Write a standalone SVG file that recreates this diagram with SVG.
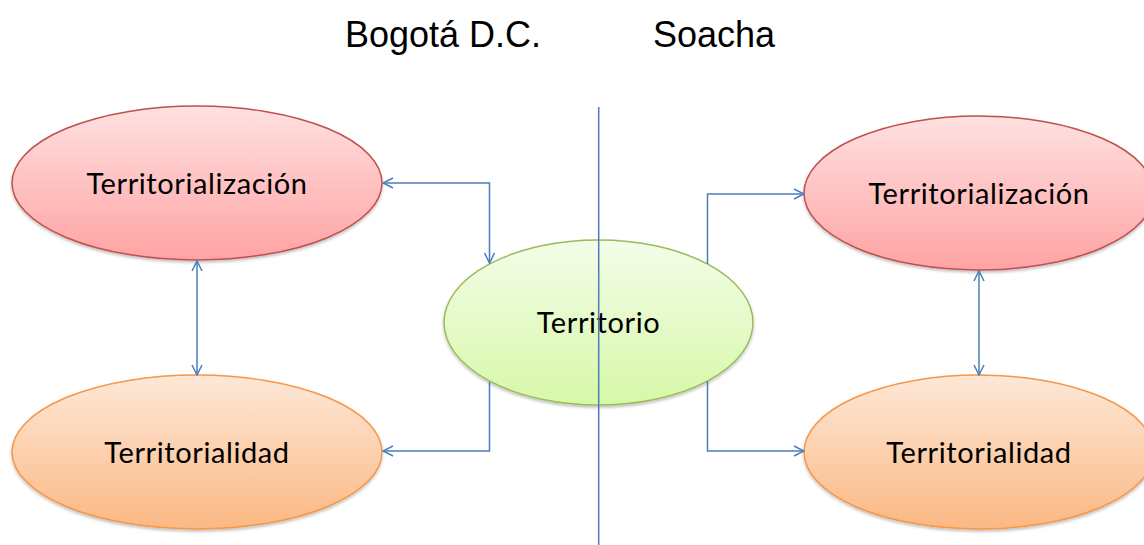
<svg xmlns="http://www.w3.org/2000/svg" width="1144" height="545" viewBox="0 0 1144 545">
<style>
.lbl{font-family:Lato,"Open Sans","Liberation Sans",sans-serif;font-size:29px;letter-spacing:0.6px;fill:#000;text-anchor:middle}
.ttl{font-family:"Liberation Sans",Arial,sans-serif;font-size:36px;fill:#000;text-anchor:middle}
.con{fill:none;stroke:#4A7EBB;stroke-width:1.5}
.red{fill:url(#gRed);stroke:#C0504D;stroke-width:1.5}
.ora{fill:url(#gOra);stroke:#F79646;stroke-width:1.5}
.grn{fill:url(#gGrn);stroke:#9BBB59;stroke-width:1.5}
</style>
<defs>
<linearGradient id="gRed" x1="0" y1="0" x2="0" y2="1"><stop offset="0" stop-color="#FFE1E1"/><stop offset="1" stop-color="#FFA3A3"/></linearGradient>
<linearGradient id="gOra" x1="0" y1="0" x2="0" y2="1"><stop offset="0" stop-color="#FDE8D8"/><stop offset="1" stop-color="#FBB883"/></linearGradient>
<linearGradient id="gGrn" x1="0" y1="0" x2="0" y2="1"><stop offset="0" stop-color="#F3FDE9"/><stop offset="1" stop-color="#D7F8A8"/></linearGradient>
<filter id="sh" x="-10%" y="-10%" width="120%" height="130%"><feDropShadow dx="0" dy="2" stdDeviation="1.5" flood-color="#000" flood-opacity="0.25"/></filter>
<marker id="arr" viewBox="0 0 12 12" refX="11" refY="6" markerWidth="12" markerHeight="12" markerUnits="userSpaceOnUse" orient="auto-start-reverse"><path d="M1,1 L11,6 L1,11" fill="none" stroke="#4A7EBB" stroke-width="1.5"/></marker>
</defs>
<text class="ttl" x="443" y="47">Bogotá D.C.</text>
<text class="ttl" x="714" y="47">Soacha</text>
<g id="node-tl"><ellipse class="red" filter="url(#sh)" cx="197" cy="183" rx="185" ry="77"/><text class="lbl" x="197" y="194">Territorialización</text></g>
<g id="node-bl"><ellipse class="ora" filter="url(#sh)" cx="197" cy="452" rx="185" ry="77"/><text class="lbl" x="197" y="463">Territorialidad</text></g>
<g id="node-tr"><ellipse class="red" filter="url(#sh)" cx="979" cy="193" rx="175" ry="77"/><text class="lbl" x="979" y="204">Territorialización</text></g>
<g id="node-br"><ellipse class="ora" filter="url(#sh)" cx="979" cy="452" rx="175" ry="77"/><text class="lbl" x="979" y="463">Territorialidad</text></g>
<g id="node-c"><ellipse class="grn" filter="url(#sh)" cx="598.5" cy="322.5" rx="154.5" ry="82.5"/><text class="lbl" x="598.5" y="333">Territorio</text></g>
<g id="connectors">
<line x1="598.7" y1="107" x2="598.7" y2="545" stroke="#4A7EBB" stroke-width="1.5"/>
<path class="con" d="M383,183 H489.5 V263" marker-start="url(#arr)" marker-end="url(#arr)"/>
<path class="con" d="M489.5,382 V451 H383" marker-end="url(#arr)"/>
<path class="con" d="M707.5,264 V194 H804" marker-end="url(#arr)"/>
<path class="con" d="M707.5,381 V451 H804" marker-end="url(#arr)"/>
<path class="con" d="M197,261 V375" marker-start="url(#arr)" marker-end="url(#arr)"/>
<path class="con" d="M979,271 V375" marker-start="url(#arr)" marker-end="url(#arr)"/>
</g>
</svg>
